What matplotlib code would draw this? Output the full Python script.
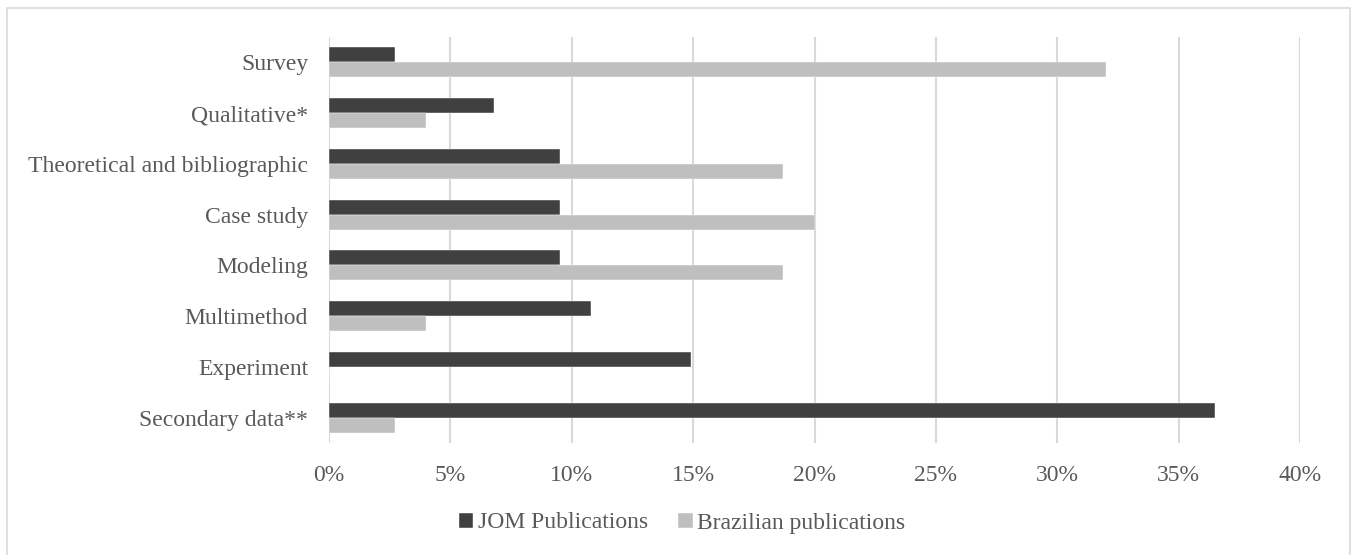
import matplotlib
matplotlib.use("Agg")
import matplotlib.pyplot as plt
from matplotlib.patches import Rectangle
from matplotlib.ticker import FuncFormatter, MultipleLocator
import numpy as np

categories = ["Survey", "Qualitative*", "Theoretical and bibliographic", "Case study",
              "Modeling", "Multimethod", "Experiment", "Secondary data**"]
jom = [2.7, 6.8, 9.5, 9.5, 9.5, 10.8, 14.9, 36.5]
brazilian = [32.0, 4.0, 18.7, 20.0, 18.7, 4.0, 0.0, 2.7]
series_names = ["JOM Publications", "Brazilian publications"]

W, H = 1351, 555
fig = plt.figure(figsize=(W / 100, H / 100), dpi=100)
plt.rcParams["font.family"] = ["Liberation Serif", "DejaVu Serif"]
text_color = "#595959"
grid_color = "#d9d9d9"
fs = 17

ax = fig.add_axes([329 / W, 1 - 443 / H, (1300 - 329) / W, (443 - 37) / H])

y = np.arange(len(categories))
h = 0.296
ax.barh(y - h / 2, jom, height=h, color="#404040", edgecolor="white", linewidth=0.3,
        label=series_names[0], zorder=3)
ax.barh(y + h / 2, brazilian, height=h, color="#bfbfbf", edgecolor="white", linewidth=0.3,
        label=series_names[1], zorder=3)

ax.set_xlim(0, 40)
ax.set_ylim(len(categories) - 0.5, -0.5)
ax.xaxis.set_major_locator(MultipleLocator(5))
ax.xaxis.set_major_formatter(FuncFormatter(lambda v, _: f"{v:.0f}%"))
ax.set_yticks(y)
ax.set_yticklabels(categories)
ax.grid(axis="x", color=grid_color, linewidth=1.5, zorder=0)
for s in ax.spines.values():
    s.set_visible(False)
ax.tick_params(axis="both", length=0, labelsize=fs, colors=text_color)
ax.tick_params(axis="x", pad=16)
ax.tick_params(axis="y", pad=15)

leg = fig.legend(loc="center", bbox_to_anchor=(682 / W, 1 - 523 / H), ncol=2, frameon=False,
                 fontsize=fs, handlelength=0.6, handleheight=0.6, handletextpad=0.2,
                 columnspacing=1.3, labelcolor=text_color)

fig.patches.append(Rectangle((7 / W, -0.02), (1350 - 7) / W, (H - 8) / H + 0.02,
                             transform=fig.transFigure, fill=False,
                             edgecolor=grid_color, linewidth=1.2))

fig.savefig("out.png", dpi=100, facecolor="white")
